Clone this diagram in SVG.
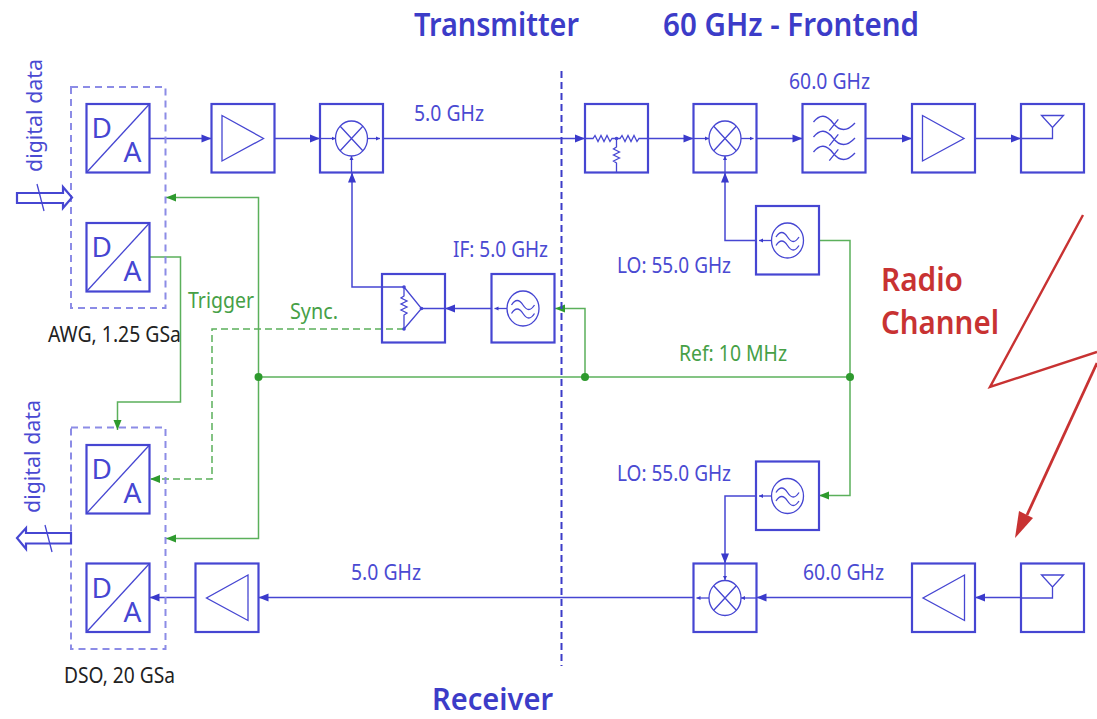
<svg xmlns="http://www.w3.org/2000/svg" width="1097" height="719" viewBox="0 0 1097 719">
<defs>
<marker id="b" markerUnits="userSpaceOnUse" markerWidth="14" markerHeight="10" refX="12" refY="5" orient="auto"><path d="M2 1L12 5L2 9z" fill="#3a3acb"/></marker>
<marker id="g" markerUnits="userSpaceOnUse" markerWidth="14" markerHeight="10" refX="12" refY="5" orient="auto"><path d="M2 1L12 5L2 9z" fill="#2e9a2e"/></marker>
<marker id="s" markerUnits="userSpaceOnUse" markerWidth="5" markerHeight="5" refX="4" refY="2.500" orient="auto"><path d="M0 .5L4 2.500L0 4.500z" fill="#3a3acb"/></marker>
<g id="da"><rect class="box" width="63" height="68.500"/><path class="thin" d="M0 68.500L63 0"/><text class="da" x="5" y="34">D</text><text class="da" x="37" y="58">A</text></g>
<g id="mix"><rect class="box" width="63" height="68.500"/><ellipse class="thin" cx="31.500" cy="34.500" rx="16" ry="17.500"/><path class="thin" d="M20.200 22.200L42.800 46.800M42.800 22.200L20.200 46.800"/></g>
<g id="osc"><rect class="box" width="63" height="68.500"/><ellipse class="thin" cx="31.500" cy="34.500" rx="16" ry="17.500"/><path class="thin" d="M20 31q5.700 -9 11.500 0t11.500 0M20 39.500q5.700 -9 11.500 0t11.500 0"/><path class="thin" marker-end="url(#s)" d="M15.500 34.500H3"/></g>
<g id="ampr"><rect class="box" width="63" height="68.500"/><path class="thin" d="M10.500 11.500L52 34.500L10.500 57z"/></g>
<g id="ampl"><rect class="box" width="63" height="68.500"/><path class="thin" d="M52.500 11.500L11 34.500L52.500 57z"/></g>
<g id="ant"><rect class="box" width="63" height="68.500"/><path class="thin" d="M20.500 11.500H42.500L31.500 23.500zM31.500 23.500V34.500H0"/></g>
<path id="wave" d="M813.500 122Q823 110 833 123T855 123M829.300 130.700L838.300 119.300"/>
</defs>
<style>
text{font-family:"Noto Sans","Open Sans","Liberation Sans",sans-serif}
.box{fill:none;stroke:#4646d2;stroke-width:2.200}
.thin{fill:none;stroke:#4646d2;stroke-width:1.300}
.da{font-size:28px;fill:#4646d2}
.blue{stroke:#4646d2;stroke-width:1.500;fill:none}
.green{stroke:#5bb05b;stroke-width:1.500;fill:none}
.dash{stroke:#8c8ce6;stroke-width:2;fill:none;stroke-dasharray:7 5}
.t{font-size:21px;fill:#4a4ad2}
.tg{font-size:21px;fill:#46a046}
.tk{font-size:21px;fill:#222}
.h{font-size:33px;font-weight:600;fill:#3c3cc8}
.r{font-size:33px;font-weight:600;fill:#c83232}
</style>
<rect width="1097" height="719" fill="#fff"/>
<g id="connectors">
<path class="blue" marker-end="url(#b)" d="M149.500 138.500H211.500"/>
<path class="blue" marker-end="url(#b)" d="M274.500 138.500H320"/>
<path class="blue" marker-end="url(#b)" d="M383 138.500H585"/>
<path class="blue" marker-end="url(#b)" d="M647.500 138.500H693.500"/>
<path class="blue" marker-end="url(#b)" d="M756.500 138.500H802.500"/>
<path class="blue" marker-end="url(#b)" d="M865.500 138.500H912"/>
<path class="blue" marker-end="url(#b)" d="M975 138.500H1021"/>
<path class="blue" marker-end="url(#b)" d="M756 240.500H725V172.500"/>
<path class="blue" marker-end="url(#b)" d="M404 287H352V172.500"/>
<path class="blue" marker-end="url(#b)" d="M491.500 308.500H445"/>
<path class="blue" marker-end="url(#b)" d="M756 496H725V563.500"/>
<path class="blue" marker-end="url(#b)" d="M912 597.500H756.500"/>
<path class="blue" marker-end="url(#b)" d="M1021 597.500H975"/>
<path class="blue" marker-end="url(#b)" d="M693.500 597.500H258.500"/>
<path class="blue" marker-end="url(#b)" d="M195.500 597.500H149.500"/>
<path class="thin" marker-end="url(#s)" d="M320 138.500H335.500"/><path class="thin" marker-end="url(#s)" d="M367.500 138.500H380"/><path class="thin" marker-end="url(#s)" d="M351.500 172.500V156"/>
<path class="thin" marker-end="url(#s)" d="M693.500 138.500H709"/><path class="thin" marker-end="url(#s)" d="M741 138.500H753.500"/><path class="thin" marker-end="url(#s)" d="M725 172.500V156"/>
<path class="thin" marker-end="url(#s)" d="M756.500 598H741"/><path class="thin" marker-end="url(#s)" d="M709 598H696.500"/><path class="thin" marker-end="url(#s)" d="M725 563.500V580"/>
<path class="green" marker-end="url(#g)" d="M258.500 377V197.500H166"/>
<path class="green" marker-end="url(#g)" d="M258.500 377V538.500H166"/>
<path class="green" d="M258.500 377H850"/>
<path class="green" marker-end="url(#g)" d="M585 377V308.500H555"/>
<path class="green" d="M819 240.500H850V377"/>
<path class="green" marker-end="url(#g)" d="M850 377V495.500H819"/>
<path class="green" marker-end="url(#g)" d="M149.500 257H180.500V402H117.500V430"/>
<path class="green" stroke-dasharray="7 4" marker-end="url(#g)" d="M404 329H212V479H150"/>
<circle cx="258.500" cy="377" r="4" fill="#2e9a2e"/>
<circle cx="585" cy="377" r="4" fill="#2e9a2e"/>
<circle cx="850" cy="377" r="4" fill="#2e9a2e"/>
<path d="M561.500 71V666" stroke="#3c3cc8" stroke-width="2" stroke-dasharray="7 4" fill="none"/>
</g>
<g id="awg"><rect class="dash" x="71" y="87" width="94.500" height="221"/>
<use href="#da" x="86.500" y="104"/><use href="#da" x="86.500" y="223"/>
<text class="tk" x="48" y="342" textLength="133" lengthAdjust="spacingAndGlyphs">AWG, 1.25 GSa</text></g>
<g id="dso"><rect class="dash" x="71" y="427.500" width="94.500" height="221.500"/>
<use href="#da" x="86.500" y="445"/><use href="#da" x="86.500" y="563.500"/>
<text class="tk" x="64" y="683" textLength="111" lengthAdjust="spacingAndGlyphs">DSO, 20 GSa</text></g>
<g id="data-in"><path class="box" d="M17 193H63V187L72 197.500L63 208V203H17z"/><path class="thin" stroke-width="1.500" d="M37 184L44 211"/>
<text class="t" transform="translate(42 172) rotate(-90)" textLength="113" lengthAdjust="spacingAndGlyphs">digital data</text></g>
<g id="data-out"><path class="box" d="M71 533H26V528L17 538L26 549V543.500H71z"/><path class="thin" d="M45 525L52 552"/>
<text class="t" transform="translate(40 513) rotate(-90)" textLength="113" lengthAdjust="spacingAndGlyphs">digital data</text></g>
<g id="amp1"><use href="#ampr" x="211.500" y="104"/></g>
<g id="mixer1"><use href="#mix" x="320" y="104"/></g>
<g id="atten"><rect class="box" x="585" y="104" width="63" height="68.500"/>
<path class="thin" d="M585 138.500H593l2 -3 3 6 3 -6 3 6 3 -6 3 6 2 -3h8l2 -3 3 6 3 -6 3 6 3 -6 3 6 2 -3H648M616.500 138.500V147l-3 2 6 3 -6 3 6 3 -6 3 3 2V172.500"/><circle cx="616.500" cy="138.500" r="1.800" fill="#4646d2"/></g>
<g id="mixer2"><use href="#mix" x="693.500" y="104"/></g>
<g id="filter"><rect class="box" x="802.500" y="104" width="63" height="68.500"/>
<use href="#wave" class="thin"/><use href="#wave" class="thin" y="15"/><use href="#wave" class="thin" y="30"/></g>
<g id="amp2"><use href="#ampr" x="912" y="104"/></g>
<g id="ant-tx"><use href="#ant" x="1021" y="104"/></g>
<g id="lo-tx"><use href="#osc" x="756" y="206"/></g>
<g id="if-osc"><use href="#osc" x="491.500" y="274"/></g>
<g id="splitter"><rect class="box" x="382" y="274" width="63" height="68.500"/>
<path class="thin" d="M404 287L421.500 308.500L404 329M421.500 308.500H445M404 287V296l-3 2 6 3 -6 3 6 3 -6 3 6 3 -3 2V329"/>
<circle cx="404" cy="287" r="1.800" fill="#4646d2"/><circle cx="404" cy="329" r="1.800" fill="#4646d2"/><circle cx="421.500" cy="308.500" r="1.800" fill="#4646d2"/></g>
<g id="lo-rx"><use href="#osc" x="756" y="461.500"/></g>
<g id="mixer-rx"><use href="#mix" x="693.500" y="563.500"/></g>
<g id="amp-rx1"><use href="#ampl" x="195.500" y="563.500"/></g>
<g id="amp-rx2"><use href="#ampl" x="912" y="563.500"/></g>
<g id="ant-rx"><use href="#ant" x="1021" y="563.500"/></g>
<g id="labels">
<text class="h" x="414" y="36" textLength="165" lengthAdjust="spacingAndGlyphs">Transmitter</text>
<text class="h" x="663" y="36" textLength="256" lengthAdjust="spacingAndGlyphs">60 GHz - Frontend</text>
<text style="font-size:30px" class="h" x="432" y="710" textLength="121" lengthAdjust="spacingAndGlyphs">Receiver</text>
<text class="t" x="414" y="121" textLength="70" lengthAdjust="spacingAndGlyphs">5.0 GHz</text>
<text class="t" x="789" y="89" textLength="81" lengthAdjust="spacingAndGlyphs">60.0 GHz</text>
<text class="t" x="453" y="257" textLength="95" lengthAdjust="spacingAndGlyphs">IF: 5.0 GHz</text>
<text class="t" x="617" y="273" textLength="114" lengthAdjust="spacingAndGlyphs">LO: 55.0 GHz</text>
<text class="t" x="617" y="481" textLength="114" lengthAdjust="spacingAndGlyphs">LO: 55.0 GHz</text>
<text class="t" x="351" y="580" textLength="70" lengthAdjust="spacingAndGlyphs">5.0 GHz</text>
<text class="t" x="803" y="580" textLength="81" lengthAdjust="spacingAndGlyphs">60.0 GHz</text>
<text class="tg" x="188" y="308" textLength="66" lengthAdjust="spacingAndGlyphs">Trigger</text>
<text class="tg" x="290" y="319" textLength="48" lengthAdjust="spacingAndGlyphs">Sync.</text>
<text class="tg" x="679" y="361" textLength="108" lengthAdjust="spacingAndGlyphs">Ref: 10 MHz</text>
<text class="r" x="881" y="291" textLength="82" lengthAdjust="spacingAndGlyphs">Radio</text>
<text class="r" x="881" y="334" textLength="118" lengthAdjust="spacingAndGlyphs">Channel</text>
</g>
<g id="radio">
<path d="M1083 215L990 387L1097 352" fill="none" stroke="#c83232" stroke-width="2.400"/>
<path d="M1097 363L1027 515" fill="none" stroke="#c83232" stroke-width="2.800"/>
<path d="M1015 538L1019 511L1033 518z" fill="#c83232"/>
</g>
</svg>
